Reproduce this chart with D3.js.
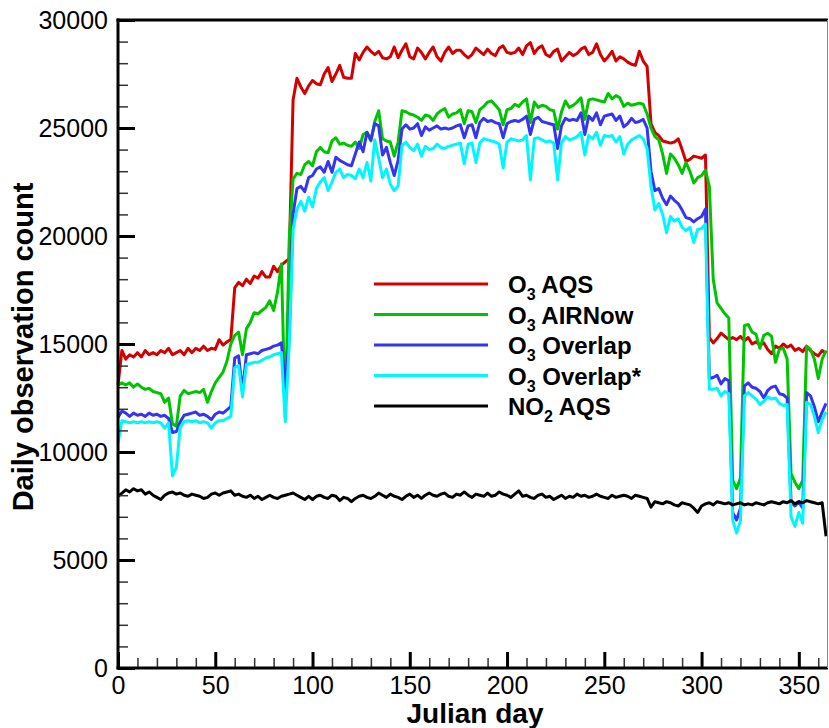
<!DOCTYPE html>
<html>
<head>
<meta charset="utf-8">
<script src="https://d3js.org/d3.v7.min.js"></script>
<style>
body { margin: 0; background: #fff; }
svg { display: block; font-family: "Liberation Sans", Arial, sans-serif; }
</style>
</head>
<body>
<div id="chart"></div>
<script>
"use strict";

// day grid shared by all series (every second Julian day)
var days = d3.range(0, 366, 2);

var o3Aqs = [
    13100, 14700, 14300, 14500, 14400, 14600, 14400, 14700, 14500, 14600,
    14500, 14700, 14600, 14800, 14500, 14600, 14700, 14500, 14800, 14600,
    14800, 14700, 14900, 14700, 14800, 14750, 15200, 14950, 15100, 15200,
    17600, 17850, 17700, 18000, 17800, 18150, 18050, 18350, 18100, 18100,
    18600, 18350, 18650, 18800, 18950, 26300, 27300, 26900, 26600, 26950,
    27200, 27050, 27000, 27500, 27800, 27150, 27500, 27900, 27350, 27300,
    27300, 28450, 28150, 28500, 28750, 28550, 28400, 28550, 28250, 28200,
    28300, 28750, 28250, 28600, 28900, 28300, 28200, 28700, 28500, 28200,
    28500, 28750, 28300, 28100, 28500, 28750, 28450, 28600, 28600, 28400,
    28250, 28400, 28700, 28550, 28400, 28650, 28450, 28350, 28700, 28800,
    28500, 28450, 28500, 28700, 28400, 28800, 28950, 28450, 28700, 28800,
    28400, 28300, 28550, 28650, 28100, 28300, 28500, 28350, 28450, 28650,
    28750, 28400, 28500, 28900, 28400, 28100, 28300, 28550, 28100, 28300,
    28200, 28050, 27950, 27900, 28550, 28100, 27850, 25200, 24800, 24650,
    24400, 24350, 24300, 24350, 24500, 24000, 23450, 23550, 23700, 23650,
    23600, 23750, 15300, 15050, 15250, 15500, 15350, 15200, 15300, 15200,
    15350, 15150, 15300, 15000, 15100, 14950, 15050, 14750, 14550, 14900,
    14800, 15000, 14850, 14950, 14700, 14800, 14650, 14900, 14700, 14550,
    14450, 14700, 14550
];

var o3AirNow = [
    13100, 13200, 13100, 13200, 13000, 13150, 13000, 12900, 12950, 12800,
    12750, 12700, 12300, 12500, 11300, 11200, 12600, 12850, 12700, 12750,
    12800, 12750, 12900, 12300, 12800, 13200, 13450, 13700, 14200, 15000,
    15400, 15550, 14500, 15700, 16000, 16450, 16400, 16550, 16700, 17000,
    16550, 17400, 18700, 11600, 19800, 22650, 22900, 22850, 23300, 23450,
    23250, 23900, 24100, 23900, 23850, 24400, 24550, 24250, 24300, 24200,
    24150, 24350, 24050, 24700, 24800, 24400, 25300, 25800, 24500, 24400,
    24350, 23700, 24350, 25800, 25750, 25650, 25600, 25500, 25350, 25600,
    25550, 25350, 25650, 25800, 25900, 25500, 25650, 25700, 25850, 25200,
    25800, 25750, 25250, 25850, 26000, 26200, 26250, 26050, 25850, 25150,
    25850, 25900, 26100, 26000, 26200, 26350, 25250, 26200, 25950, 26050,
    26000, 25850, 25800, 24950, 25750, 26250, 25950, 26050, 26200, 26400,
    25400, 26300, 26350, 26300, 26250, 26200, 26600, 26350, 26500, 26400,
    26000, 26150, 26050, 26100, 26150, 26100, 25650, 25000, 24600, 24450,
    23800, 22900, 23800, 23600, 23300, 22900, 23400, 23000, 22450, 22700,
    22800, 23050, 22300, 18000, 16900, 16650, 16400, 16200, 8700, 8300,
    8800, 15850, 15900, 15550, 15450, 14800, 15400, 15500, 15350, 14150,
    14750, 14800, 14300, 9000, 8600, 8300, 8700, 14900, 14750, 14300,
    13400, 14300, 14700
];

var o3Overlap = [
    11600, 11900, 11800, 11650, 11800, 11700, 11750, 11650, 11800, 11700,
    11750, 11650, 11700, 11550, 10900, 10950, 11400, 11700, 11750, 11800,
    11850, 11700, 11750, 11650, 11500, 11750, 11850, 11800, 11950, 12100,
    14350, 14450, 12800, 14500, 14550, 14600, 14550, 14700, 14750, 14800,
    14900, 14950, 15050, 13000, 15300, 21000, 22200, 22300, 22050, 22700,
    22800, 23100, 23200, 22950, 23450, 22950, 23650, 23500, 23400, 23300,
    23250, 23800, 24350, 23900, 24800, 24450, 25200, 25100, 23750, 24100,
    23400, 22800, 23500, 24950, 25150, 24950, 25000, 25200, 24650, 25050,
    24900, 25000, 25100, 24950, 25000, 24950, 25000, 25100, 25150, 24550,
    25100, 25150, 24550, 25250, 25450, 25300, 25350, 25250, 25200, 24550,
    25200, 25300, 25350, 25300, 25400, 25550, 24700, 25400, 25500, 25300,
    25250, 25200, 25150, 24050, 25100, 25450, 25350, 25400, 25350, 25700,
    24700, 25550, 25350, 25700, 25150, 25550, 25600, 25650, 25350, 25550,
    25050, 25200, 25450, 25250, 25300, 25400, 25000, 23000, 22100, 22200,
    21750, 21450, 21850, 21650, 21500, 21200, 20850, 20800, 20650, 20800,
    20900, 21250, 13400, 13450, 13550, 13150, 13400, 13300, 7200, 6850,
    7400, 13050, 13200, 13000, 12950, 12800, 12500, 12850, 13000, 13050,
    12700, 12650, 12500, 7700, 7500, 7700, 7400, 12750, 12600, 12100,
    11400, 11850, 12250
];

var o3OverlapStar = [
    10400, 11450, 11400, 11350, 11400, 11350, 11400, 11350, 11400, 11350,
    11400, 11350, 11100, 11350, 8900, 9300, 11150, 11400, 11450, 11400,
    11450, 11350, 11400, 11350, 11100, 11350, 11450, 11450, 11550, 11650,
    13900, 14000, 12550, 14050, 14100, 14150, 14150, 14250, 14350, 14400,
    14500, 14550, 14600, 11400, 14950, 20300, 21250, 21600, 21150, 21800,
    21350, 22200, 22500, 22700, 22100, 22500, 22950, 23100, 22700, 22850,
    22800, 22650, 23100, 22700, 23400, 22550, 24450, 23600, 22700, 23100,
    22400, 22100, 22300, 24200, 24350, 24100, 23950, 24250, 23700, 24150,
    24000, 24050, 24250, 24100, 24050, 24150, 24200, 24250, 24300, 23350,
    24250, 24300, 23400, 24300, 24500, 24450, 24400, 24350, 24250, 23150,
    24350, 24500, 24450, 24400, 24450, 24650, 22600, 24500, 24550, 24450,
    24350, 24400, 24300, 22600, 24300, 24600, 24450, 24500, 24600, 24800,
    23750, 24650, 24500, 24800, 24200, 24650, 24600, 24650, 24350, 24600,
    23800, 24250, 24450, 24550, 24650, 24500, 24050, 22300, 21200, 21500,
    21000, 20150, 20900, 20700, 20800, 20400, 20250, 20400, 19700, 20300,
    20350, 20550, 12900, 12900, 12950, 12600, 12800, 12700, 6850, 6250,
    6800, 12600, 12750, 12600, 12450, 12200, 12350, 12550, 12450, 12500,
    12250, 12150, 12200, 7000, 6550, 7200, 6700, 12300, 12200, 11650,
    10900, 11500, 11850
];

var no2Aqs = [
    7950, 8100, 8250, 8150, 8300, 8200, 8250, 8050, 8150, 8000,
    7900, 7800, 8000, 8100, 8150, 8050, 8100, 8000, 7950, 8050,
    8000, 7950, 7850, 7900, 8050, 8100, 8000, 8100, 8150, 8200,
    8000, 8050, 7950, 7900, 8000, 7850, 7950, 7800, 7900, 8000,
    7900, 7850, 7950, 8000, 8050, 8100, 8000, 7900, 7800, 7950,
    7800, 7950, 8000, 7900, 7850, 8000, 7950, 7750, 7900, 7850,
    7700, 7850, 7950, 8000, 7900, 7850, 7950, 8100, 8000, 7900,
    8050, 7950, 7900, 7800, 7950, 8050, 7900, 8000, 7850, 8000,
    8100, 8000, 7950, 8050, 8100, 7950, 7900, 8050, 8000, 8150,
    8000, 7900, 8050, 8000, 7950, 8100, 7950, 8000, 8150, 8050,
    8000, 7900, 8050, 8200, 7950, 8000, 7900, 7850, 8000, 8050,
    7900, 7950, 7800, 7900, 8000, 7850, 7950, 7900, 8050, 7950,
    8000, 7900, 7950, 8050, 7950, 7900, 7850, 8000, 7900, 7950,
    8000, 7950, 7850, 8000, 7950, 7900, 7850, 7450, 7700, 7650,
    7600, 7700, 7650, 7550, 7500, 7650, 7600, 7550, 7400, 7200,
    7500, 7600, 7650, 7550, 7700, 7650, 7600, 7650, 7550, 7600,
    7650, 7550, 7600, 7550, 7650, 7600, 7550, 7650, 7700, 7650,
    7600, 7700, 7650, 7750, 7600, 7700, 7650, 7750, 7700, 7650,
    7600, 7650, 6100
];

// legend labels: [main, subscript, rest]
var seriesLabels = [
    ["O", "3", " AQS"],
    ["O", "3", " AIRNow"],
    ["O", "3", " Overlap"],
    ["O", "3", " Overlap*"],
    ["NO", "2", " AQS"]
];
var seriesColors = ["#d40000", "#00c400", "#3434f2", "#00f6ff", "#000000"];

var xMajorTicks = [0, 50, 100, 150, 200, 250, 300, 350];
var xMinorTicks = d3.range(10, 370, 10).filter(function(d) { return d % 50 !== 0; });
var yMajorTicks = [0, 5000, 10000, 15000, 20000, 25000, 30000];
var yMinorTicks = d3.range(1000, 30000, 1000).filter(function(d) { return d % 5000 !== 0; });

function drawChart() {
    var W = 829, H = 728;
    var margin = { top: 20, right: 1, bottom: 60, left: 118 };
    var width = W - margin.left - margin.right;
    var height = H - margin.top - margin.bottom;

    var svg = d3.select("#chart").append("svg")
        .attr("width", W)
        .attr("height", H);

    var g = svg.append("g")
        .attr("transform", "translate(" + margin.left + "," + margin.top + ")");

    var xScale = d3.scaleLinear().domain([0, 365]).range([0, width]);
    var yScale = d3.scaleLinear().domain([0, 30000]).range([height, 0]);

    var allSeries = [o3Aqs, o3AirNow, o3Overlap, o3OverlapStar, no2Aqs];

    var line = d3.line()
        .x(function(d) { return xScale(d[0]); })
        .y(function(d) { return yScale(d[1]); });

    allSeries.forEach(function(values, i) {
        g.append("path")
            .datum(days.map(function(day, k) { return [day, values[k]]; }))
            .attr("fill", "none")
            .attr("stroke", seriesColors[i])
            .attr("stroke-width", 3)
            .attr("stroke-linejoin", "round")
            .attr("d", line);
    });

    // minor ticks
    var xMinor = g.append("g")
        .attr("transform", "translate(0," + height + ")")
        .call(d3.axisBottom(xScale).tickValues(xMinorTicks).tickSize(-10).tickFormat(""));
    var yMinor = g.append("g")
        .call(d3.axisLeft(yScale).tickValues(yMinorTicks).tickSize(-10).tickFormat(""));
    [xMinor, yMinor].forEach(function(ax) {
        ax.select(".domain").remove();
        ax.selectAll(".tick line").attr("stroke", "#333").attr("stroke-width", 1.5);
    });

    // major ticks and labels
    var xAxis = g.append("g")
        .attr("transform", "translate(0," + height + ")")
        .call(d3.axisBottom(xScale).tickValues(xMajorTicks).tickSize(-16).tickPadding(8));
    var yAxis = g.append("g")
        .call(d3.axisLeft(yScale).tickValues(yMajorTicks).tickSize(-17).tickPadding(10)
            .tickFormat(d3.format("d")));
    [xAxis, yAxis].forEach(function(ax) {
        ax.select(".domain").remove();
        ax.selectAll(".tick line").attr("stroke", "#000").attr("stroke-width", 3);
        ax.selectAll(".tick text")
            .attr("fill", "#000")
            .style("font-size", "25px")
            .style("font-family", "'Liberation Sans', Arial, sans-serif");
    });

    // frame
    g.append("line").attr("x1", 0).attr("x2", 0).attr("y1", -1.5).attr("y2", height + 1.5)
        .attr("stroke", "#000").attr("stroke-width", 3);
    g.append("line").attr("x1", -1.5).attr("x2", width).attr("y1", height).attr("y2", height)
        .attr("stroke", "#000").attr("stroke-width", 3);
    g.append("line").attr("x1", -1.5).attr("x2", width).attr("y1", 0).attr("y2", 0)
        .attr("stroke", "#000").attr("stroke-width", 3);
    g.append("line").attr("x1", width - 0.5).attr("x2", width - 0.5).attr("y1", 0).attr("y2", height)
        .attr("stroke", "#888").attr("stroke-width", 1);

    // axis titles
    svg.append("text")
        .attr("x", 475)
        .attr("y", 723)
        .attr("text-anchor", "middle")
        .style("font-size", "28px")
        .style("font-weight", "bold")
        .text("Julian day");

    svg.append("text")
        .attr("transform", "translate(33,347) rotate(-90)")
        .attr("text-anchor", "middle")
        .style("font-size", "29px")
        .style("font-weight", "bold")
        .text("Daily observation count");

    // legend
    var legend = svg.append("g").attr("transform", "translate(374,284)");
    seriesLabels.forEach(function(lbl, i) {
        var ly = i * 30.5;
        legend.append("line")
            .attr("x1", 0).attr("x2", 114)
            .attr("y1", ly).attr("y2", ly)
            .attr("stroke", seriesColors[i])
            .attr("stroke-width", 3);
        var t = legend.append("text")
            .attr("x", 134)
            .attr("y", ly + 9)
            .style("font-size", "24px")
            .style("font-weight", "bold");
        t.append("tspan").text(lbl[0]);
        t.append("tspan").attr("dy", 7).style("font-size", "16px").text(lbl[1]);
        t.append("tspan").attr("dy", -7).text(lbl[2]);
    });
}

drawChart();
</script>
</body>
</html>
